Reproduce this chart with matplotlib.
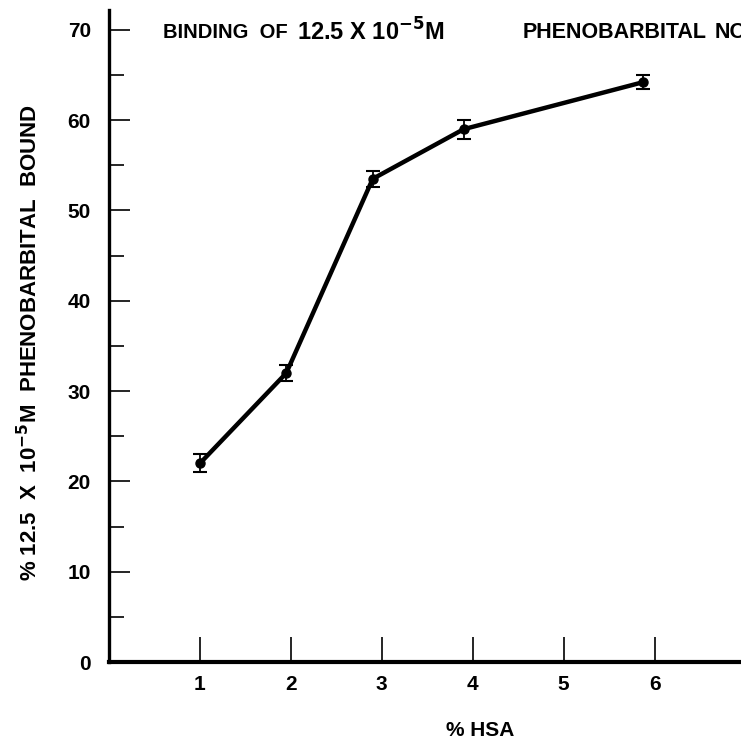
import matplotlib.pyplot as plt
from matplotlib.ticker import MultipleLocator

# % HSA and % phenobarbital bound
hsa = [1.0, 1.95, 2.9, 3.9, 5.87]
bound = [22.0, 32.0, 53.5, 59.0, 64.2]
err = [1.0, 0.9, 0.9, 1.05, 0.8]

x_ticks = [1, 2, 3, 4, 5, 6]
y_ticks = [0, 10, 20, 30, 40, 50, 60, 70]

# title pieces, spread out the way they sit on the scan
title_parts = ['BINDING  OF', '12.5 X 10$^{\\mathbf{-5}}$M', 'PHENOBARBITAL', 'NO']
title_x = [163, 297, 523, 715]
title_fs = [14.5, 17, 15.5, 15.5]

plt.rcParams['font.family'] = ['Liberation Sans', 'DejaVu Sans']
plt.rcParams['font.weight'] = 'bold'

fig = plt.figure(figsize=(7.41, 7.41), dpi=100)
ax = fig.add_axes([109 / 741, 79 / 741, 632 / 741, 652 / 741])

ax.errorbar(hsa, bound, yerr=err, color='black', lw=3.2, marker='o', ms=6.5,
            capsize=5, elinewidth=1.3, capthick=1.5)

ax.set_xlim(0, 6.95)
ax.set_ylim(0, 72.2)
ax.set_xticks(x_ticks)
ax.set_xticklabels([str(t) for t in x_ticks])
ax.set_yticks(y_ticks)
ax.yaxis.set_minor_locator(MultipleLocator(5))

for s in ['top', 'right']:
    ax.spines[s].set_visible(False)
ax.spines['left'].set_linewidth(2.4)
ax.spines['bottom'].set_linewidth(3)

ax.tick_params(axis='x', direction='in', length=18, width=1.2, pad=9, labelsize=15)
ax.tick_params(axis='y', which='major', direction='in', length=15, width=1.2, pad=13, labelsize=15)
ax.tick_params(axis='y', which='minor', direction='in', length=11, width=1.2)

for part, px, fs in zip(title_parts, title_x, title_fs):
    fig.text(px / 741, 1 - 32 / 741, part, fontsize=fs, va='center', ha='left')

fig.text(480 / 741, 1 - 730 / 741, '% HSA', fontsize=15, ha='center', va='center')
fig.text(30 / 741, 1 - 342 / 741, '% 12.5  X  10$^{\\mathbf{-5}}$M  PHENOBARBITAL  BOUND',
         fontsize=16, rotation=90, ha='center', va='center')

fig.savefig('out.png', dpi=100)
